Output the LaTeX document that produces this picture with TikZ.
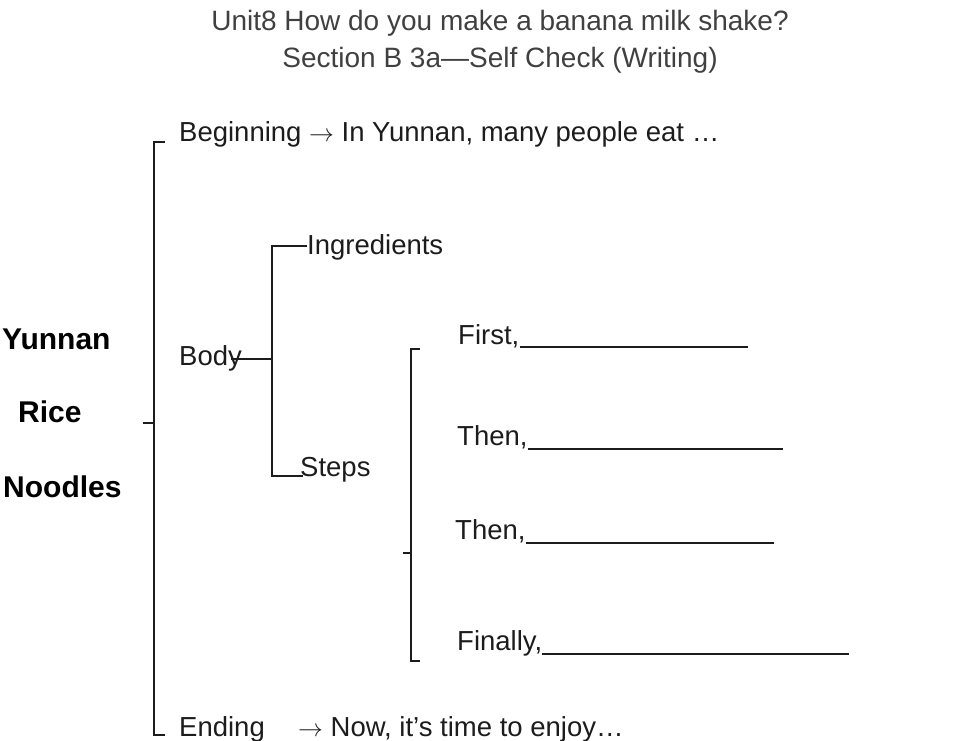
\documentclass[tikz,border=0pt]{standalone}
\usepackage{amsmath}
\usepackage{fontspec}
\setmainfont{Liberation Sans}
\usepackage{xcolor}
\usepackage{tikz}
\definecolor{ink}{HTML}{1C1C1C}
\definecolor{titlegray}{HTML}{404040}

\begin{document}
\begin{tikzpicture}[x=1pt,y=-1pt,
		txt/.style={anchor=base west,inner sep=0pt,text=ink,font=\fontsize{27.5}{31}\selectfont},
		topic/.style={anchor=base west,inner sep=0pt,text=black,font=\fontsize{30}{34}\selectfont\bfseries},
		head/.style={anchor=base,inner sep=0pt,text=titlegray,font=\fontsize{28}{32}\selectfont},
		bracket/.style={draw=ink,line width=2.6pt},
		link/.style={draw=ink,line width=1.6pt},
		blank/.style={draw=ink,line width=1.8pt}]
			\useasboundingbox (0,0) rectangle (972,741);
			\node[head] (t1) at (500,31) {Unit8 How do you make a banana milk shake?};
			\node[head] (t2) at (500,68) {Section B 3a\textemdash Self Check (Writing)};
			
			\node[topic] (yun) at (2,349) {Yunnan};
			\node[topic] (rice) at (18,422) {Rice};
			\node[topic] (nood) at (3,497) {Noodles};
			
			\node[txt] (begin) at (179,142) {Beginning $\rightarrow$ In Yunnan, many people eat …};
			\node[txt] (body) at (179,365) {Body};
			\node[txt] (ingr) at (307,254) {Ingredients};
			\node[txt] (steps) at (300,476) {Steps};
			\node[txt] (ending) at (179,736) {Ending};
			\node[txt] (enjoy) at (298,736) {$\rightarrow$ Now, it’s time to enjoy…};
			
			\node[txt] (first) at (458,344) {First,};
			\node[txt] (then1) at (457,445) {Then,};
			\node[txt] (then2) at (455,539) {Then,};
			\node[txt] (final) at (457,650) {Finally,};
			
			\coordinate (btop) at (165,142);
			\coordinate (bbot) at (165,735);
			\coordinate (bmid) at (143,423);
			\coordinate (bl) at (154,423);
			\draw[bracket] (btop) -- (btop -| bl) -- (bbot -| bl) -- (bbot);
			\draw[bracket] (bmid) -- (bl);
			
			\coordinate (fork) at (272,359);
			\draw[link] ([xshift=-11pt]body.east |- fork) -- (fork);
			\draw[link] (ingr.west |- 0,246) -| (fork |- steps.base) -- ([xshift=3pt]steps.base west);
			
			\coordinate (stop) at (420,349);
			\coordinate (sbot) at (420,661);
			\coordinate (smid) at (403,553);
			\coordinate (sl) at (411,553);
			\draw[link] (stop) -- (stop -| sl) -- (sbot -| sl) -- (sbot);
			\draw[link] (smid) -- (sl);
			
			\coordinate (e1) at (748,347);
			\coordinate (e2) at (783,449);
			\coordinate (e3) at (774,543);
			\coordinate (e4) at (849,654);
			\draw[blank] (first.east |- e1) -- (e1);
			\draw[blank] (then1.east |- e2) -- (e2);
			\draw[blank] (then2.east |- e3) -- (e3);
			\draw[blank] (final.east |- e4) -- (e4);
		\end{tikzpicture}
\end{document}
